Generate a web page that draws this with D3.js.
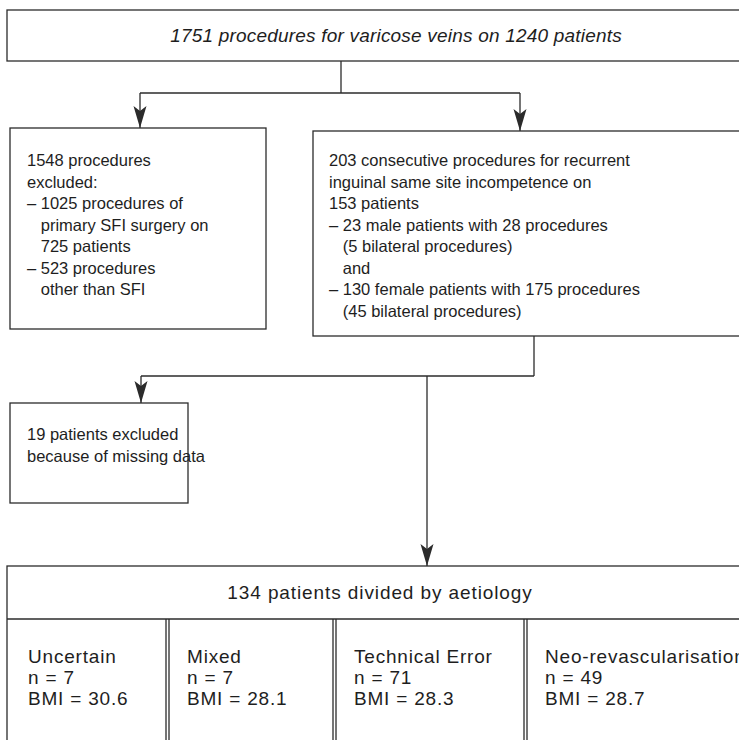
<!DOCTYPE html>
<html>
<head>
<meta charset="utf-8">
<script src="https://cdn.jsdelivr.net/npm/d3@7"></script>
<style>
  body { margin: 0; background: #fff; }
  svg { display: block; }
</style>
</head>
<body>
<div class="flow"></div>
<script>
// text of each box
var topText = ["1751 procedures for varicose veins on 1240 patients"];
var excludedText = ["1548 procedures", "excluded:", "\u2013 1025 procedures of", "   primary SFI surgery on", "   725 patients", "\u2013 523 procedures", "   other than SFI"];
var includedText = ["203 consecutive procedures for recurrent", "inguinal same site incompetence on", "153 patients",
  "\u2013 23 male patients with 28 procedures", "   (5 bilateral procedures)", "   and",
  "\u2013 130 female patients with 175 procedures", "   (45 bilateral procedures)"];
var missingText = ["19 patients excluded", "because of missing data"];
var groupTitle = ["134 patients divided by aetiology"];
var groups = ["Uncertain", "Mixed", "Technical Error", "Neo-revascularisation"];
var groupN = [7, 7, 71, 49];
var groupBMI = [30.6, 28.1, 28.3, 28.7];

var W = 739, H = 740;
var stroke = "#2b2b2b";
var ink = "#1e1e1e";

var svg = d3.select(".flow")
	.append("svg")
	.attr("width", W)
	.attr("height", H);

function box(x, y, w, h) {
	svg.append("rect")
		.attr("x", x).attr("y", y)
		.attr("width", w).attr("height", h)
		.attr("fill", "none")
		.attr("stroke", stroke)
		.attr("stroke-width", 1.3);
}

// plain line, with a downward arrow head at its end if asked
function line(pts, arrow) {
	svg.append("path")
		.attr("d", d3.line()(pts))
		.attr("fill", "none")
		.attr("stroke", stroke)
		.attr("stroke-width", 1.3);
	if (arrow) {
		var end = pts[pts.length - 1];
		svg.append("path")
			.attr("transform", "translate(" + end[0] + "," + end[1] + ")")
			.attr("d", "M0,0 L-6.5,-22 L0,-17 L6.5,-22 Z")
			.attr("fill", stroke);
	}
}

function lines(list, x, y, step, opts) {
	opts = opts || {};
	svg.append("g").selectAll("text")
		.data(list)
		.enter().append("text")
		.attr("x", x)
		.attr("y", function(d, i) { return y + i * step; })
		.attr("xml:space", "preserve")
		.style("fill", ink)
		.style("font-family", "'Liberation Sans', Arial, sans-serif")
		.style("font-size", (opts.size || 16.5) + "px")
		.style("letter-spacing", (opts.spacing || 0) + "px")
		.style("font-style", opts.italic ? "italic" : "normal")
		.style("text-anchor", opts.anchor || "start")
		.text(function(d) { return d; });
}

// ----------------------------------------------------------
// top box
box(7, 10, 790, 51);
lines(topText, 396, 42, 0, { italic: true, size: 19, spacing: 0.2, anchor: "middle" });

line([[341, 61], [341, 93]]);
line([[140, 93], [520, 93]]);
line([[140, 93], [140, 128]], true);
line([[520, 93], [520, 131]], true);

// ----------------------------------------------------------
// excluded and included boxes
box(10, 128, 256, 201);
lines(excludedText, 27, 166, 21.5);

box(313, 131, 440, 205);
lines(includedText, 329, 166, 21.5);

line([[534, 336], [534, 376]]);
line([[141, 376], [534, 376]]);
line([[141, 376], [141, 403]], true);
line([[427, 376], [427, 566]], true);

// ----------------------------------------------------------
// missing data box
box(10, 403, 178, 100);
lines(missingText, 27, 440, 21.5);

// ----------------------------------------------------------
// aetiology box
box(7, 566, 760, 200);
line([[7, 619], [767, 619]]);
lines(groupTitle, 380, 599, 0, { size: 19, spacing: 0.9, anchor: "middle" });

var colX = d3.scaleOrdinal()
	.domain(groups)
	.range([7, 167, 334, 525]);

groups.forEach(function(g, i) {
	var x0 = colX(g);
	if (i > 0) {
		line([[x0 - 1, 619], [x0 - 1, H]]);
		line([[x0 + 2, 619], [x0 + 2, H]]);
	}
	lines([g, "n = " + groupN[i], "BMI = " + groupBMI[i].toFixed(1)],
		x0 + (i == 0 ? 21 : 20), 663, 21, { size: 19, spacing: 0.8 });
});
</script>
</body>
</html>
